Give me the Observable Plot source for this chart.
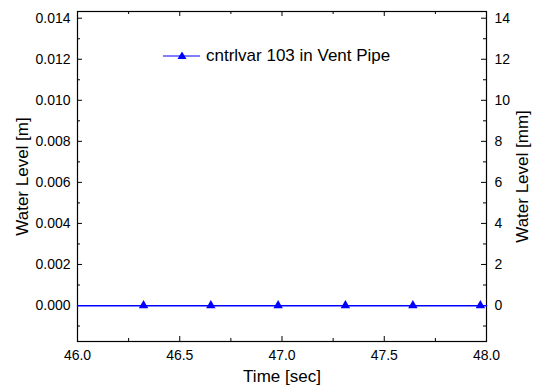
<!DOCTYPE html>
<html><head><meta charset="utf-8">
<script src="https://cdn.jsdelivr.net/npm/d3@7"></script>
<script src="https://cdn.jsdelivr.net/npm/@observablehq/plot@0.6"></script>
<style>
html,body{margin:0;padding:0;background:#fff;}
#wrap{position:relative;width:535px;height:391px;font-family:Arial,"Liberation Sans",sans-serif;}
#legend{position:absolute;left:163px;top:45px;height:22px;display:flex;align-items:center;font-size:17px;color:#000;white-space:nowrap;}
#legend svg{margin-right:6px;}
</style></head><body><div id="wrap"></div>
<script>
// data
const times  = [45.994, 46.323, 46.652, 46.981, 47.310, 47.640, 47.970, 48.299];
const levels = [0, 0, 0, 0, 0, 0, 0, 0];
const seriesName = "cntrlvar 103 in Vent Pipe";
const xMajor = [46.0, 46.5, 47.0, 47.5, 48.0];
const xMinor = [46.25, 46.75, 47.25, 47.75];
const yMajor = [0, 0.002, 0.004, 0.006, 0.008, 0.010, 0.012, 0.014];
const yMinor = [-0.001, 0.001, 0.003, 0.005, 0.007, 0.009, 0.011, 0.013];
const mmLabels = [0, 2, 4, 6, 8, 10, 12, 14];
const xTitle = "Time [sec]";
const yTitleLeft = "Water Level [m]";
const yTitleRight = "Water Level [mm]";

const W = 535, H = 391;
const mL = 77, mR = 49, mT = 11, mB = 50;
const pw = W - mL - mR, ph = H - mT - mB;
const data = times.map((t, i) => ({t, v: levels[i]}));
const blue = "#0000ff";

const chart = Plot.plot({
  width: W, height: H,
  marginLeft: mL, marginRight: mR, marginTop: mT, marginBottom: mB,
  style: {fontFamily: "Arial, 'Liberation Sans', sans-serif", fontSize: "14px", color: "#000", background: "#fff"},
  x: {domain: [46, 48], clamp: true},
  y: {domain: [-0.001754, 0.014327]},
  marks: [
    // inward ticks
    Plot.tickX(xMajor, {x: d => d, insetTop: ph - 5, stroke: "#000"}),
    Plot.tickX(xMajor, {x: d => d, insetBottom: ph - 5, stroke: "#000"}),
    Plot.tickX(xMinor, {x: d => d, insetTop: ph - 3, stroke: "#000"}),
    Plot.tickX(xMinor, {x: d => d, insetBottom: ph - 3, stroke: "#000"}),
    Plot.tickY(yMajor, {y: d => d, insetRight: pw - 5, stroke: "#000"}),
    Plot.tickY(yMajor, {y: d => d, insetLeft: pw - 5, stroke: "#000"}),
    Plot.tickY(yMinor, {y: d => d, insetRight: pw - 3, stroke: "#000"}),
    Plot.tickY(yMinor, {y: d => d, insetLeft: pw - 3, stroke: "#000"}),
    Plot.frame({stroke: "#000", strokeWidth: 1.2}),
    // series (line spans to the frame edges via the clamped x scale)
    Plot.line(data, {x: "t", y: "v", stroke: blue, strokeWidth: 1.5, dy: 0.3}),
    Plot.dot(data.filter(d => d.t >= 46 && d.t <= 48), {x: "t", y: "v", symbol: "triangle", fill: blue, stroke: "none", r: 3.5}),
    // tick labels
    Plot.axisX(xMajor, {anchor: "bottom", tickSize: 0, tickPadding: 9, tickFormat: d => d.toFixed(1), fontSize: 14, label: null}),
    Plot.axisY(yMajor, {anchor: "left", tickSize: 0, tickPadding: 7, tickFormat: d => d.toFixed(3), fontSize: 14, label: null}),
    Plot.axisY(mmLabels.map(d => d / 1000), {anchor: "right", tickSize: 0, tickPadding: 8, tickFormat: d => String(Math.round(d * 1000)), fontSize: 14, label: null}),
    // titles
    Plot.text([xTitle], {frameAnchor: "bottom", dy: 40, text: d => d, fontSize: 17, fill: "#000", textAnchor: "middle"}),
    Plot.text([yTitleLeft], {frameAnchor: "left", dx: -55, rotate: -90, text: d => d, fontSize: 17, fill: "#000", textAnchor: "middle"}),
    Plot.text([yTitleRight], {frameAnchor: "right", dx: 36, rotate: -90, text: d => d, fontSize: 17, fill: "#000", textAnchor: "middle"})
  ]
});

const wrap = document.getElementById("wrap");
wrap.appendChild(chart);
const legend = document.createElement("div");
legend.id = "legend";
legend.innerHTML = `<svg width="37" height="14" viewBox="0 0 37 14"><line x1="0" y1="7" x2="37" y2="7" stroke="${blue}" stroke-width="1.2"/><path d="M19,2.5 L23.5,10 L14.5,10 Z" fill="${blue}"/></svg><span></span>`;
legend.querySelector("span").textContent = seriesName;
wrap.appendChild(legend);
</script>
</body></html>
